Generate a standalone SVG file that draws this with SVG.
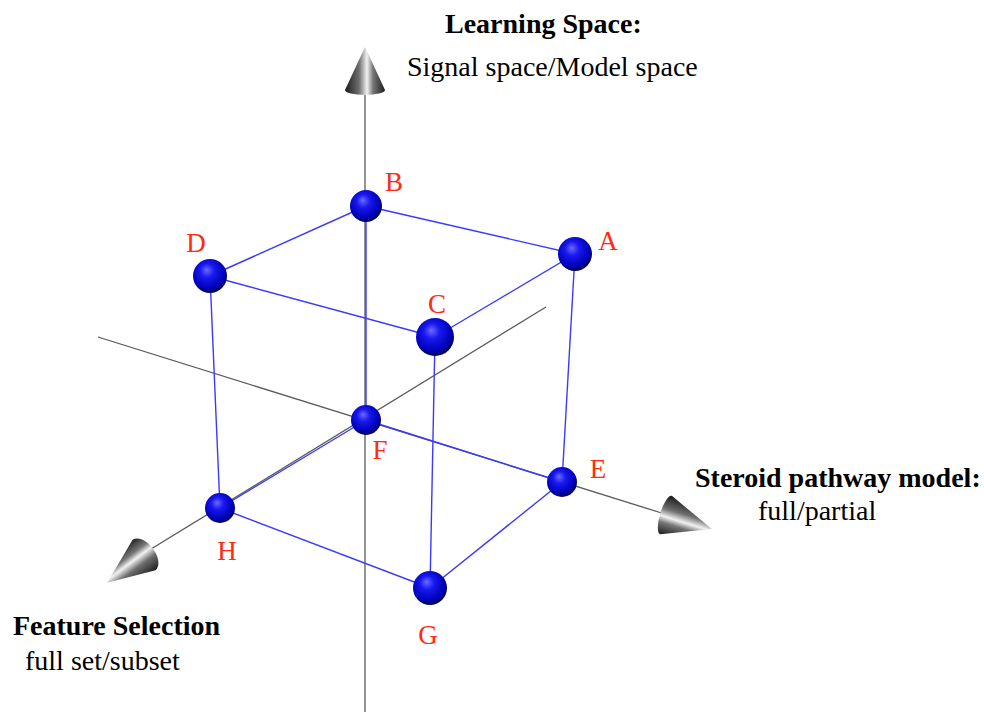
<svg xmlns="http://www.w3.org/2000/svg" width="984" height="713" viewBox="0 0 984 713">
<style>
.axis{stroke:#5a5a5a;stroke-width:1.3;fill:none}
.edge{stroke:#3a3aff;stroke-width:1.4;fill:none}
.lbl{font-family:"Liberation Serif","Times New Roman",serif;font-size:27px;fill:#ff2a10;text-anchor:middle}
.title{font-family:"Liberation Serif","Times New Roman",serif;font-size:28px;font-weight:bold;fill:#000}
.sub{font-family:"Liberation Serif","Times New Roman",serif;font-size:28px;fill:#000}
.ball{fill:url(#ballGrad)}
.cone{fill:url(#coneGrad)}
</style>
<defs>
<radialGradient id="ballGrad" cx="0.45" cy="0.4" r="0.6" fx="0.4" fy="0.32">
<stop offset="0" stop-color="#6a6aff"/>
<stop offset="0.35" stop-color="#1818f0"/>
<stop offset="0.8" stop-color="#0000b8"/>
<stop offset="1" stop-color="#000050"/>
</radialGradient>
<linearGradient id="coneGrad" gradientUnits="userSpaceOnUse" x1="0" y1="-20" x2="0" y2="20">
<stop offset="0" stop-color="#1a1a1a"/>
<stop offset="0.35" stop-color="#6e6e6e"/>
<stop offset="0.55" stop-color="#f2f2f2"/>
<stop offset="0.7" stop-color="#777"/>
<stop offset="1" stop-color="#1e1e1e"/>
</linearGradient>
</defs>

<g id="connectors">
<line class="axis" x1="365" y1="90" x2="365" y2="712"/>
<line class="axis" x1="98" y1="337" x2="668" y2="515"/>
<line class="axis" x1="546" y1="307" x2="138" y2="557"/>
<line class="edge" x1="366" y1="206" x2="575" y2="254"/>
<line class="edge" x1="366" y1="206" x2="210" y2="276"/>
<line class="edge" x1="210" y1="276" x2="435" y2="337"/>
<line class="edge" x1="435" y1="337" x2="575" y2="254"/>
<line class="edge" x1="366" y1="206" x2="366" y2="420"/>
<line class="edge" x1="210" y1="276" x2="220" y2="508"/>
<line class="edge" x1="575" y1="254" x2="562" y2="482"/>
<line class="edge" x1="435" y1="337" x2="430" y2="588"/>
<line class="edge" x1="366" y1="420" x2="562" y2="482"/>
<line class="edge" x1="366" y1="420" x2="220" y2="508"/>
<line class="edge" x1="220" y1="508" x2="430" y2="588"/>
<line class="edge" x1="430" y1="588" x2="562" y2="482"/>
</g>

<g id="cone-learning" transform="translate(365,90) rotate(-90)">
<path class="cone" d="M43,0 L0,-20 A5,20 0 0 0 0,20 Z"/>
</g>
<g id="cone-steroid" transform="translate(666,515) rotate(17)">
<path class="cone" d="M48,0 L0,-20 A6,20 0 0 0 0,20 Z"/>
</g>
<g id="cone-feature" transform="translate(144,555) rotate(143)">
<path class="cone" d="M46,0 L0,-19 A11,19 0 0 0 0,19 Z"/>
</g>

<g id="node-B"><circle class="ball" cx="366" cy="206" r="16"/><text class="lbl" x="394" y="191">B</text></g>
<g id="node-A"><circle class="ball" cx="575" cy="254" r="17"/><text class="lbl" x="608" y="250">A</text></g>
<g id="node-D"><circle class="ball" cx="210" cy="276" r="17"/><text class="lbl" x="196" y="252">D</text></g>
<g id="node-C"><circle class="ball" cx="435" cy="337" r="19"/><text class="lbl" x="437" y="313">C</text></g>
<g id="node-F"><circle class="ball" cx="366" cy="420" r="15"/><text class="lbl" x="380" y="459">F</text></g>
<g id="node-E"><circle class="ball" cx="562" cy="482" r="15"/><text class="lbl" x="598" y="478">E</text></g>
<g id="node-H"><circle class="ball" cx="220" cy="508" r="15"/><text class="lbl" x="227" y="560">H</text></g>
<g id="node-G"><circle class="ball" cx="430" cy="588" r="17"/><text class="lbl" x="428" y="644">G</text></g>

<g id="title-learning">
<text class="title" x="445" y="33">Learning Space:</text>
<text class="sub" x="407" y="76">Signal space/Model space</text>
</g>
<g id="title-steroid">
<text class="title" x="695" y="487">Steroid pathway model:</text>
<text class="sub" x="758" y="520">full/partial</text>
</g>
<g id="title-feature">
<text class="title" x="13" y="635">Feature Selection</text>
<text class="sub" x="25" y="670">full set/subset</text>
</g>
</svg>
